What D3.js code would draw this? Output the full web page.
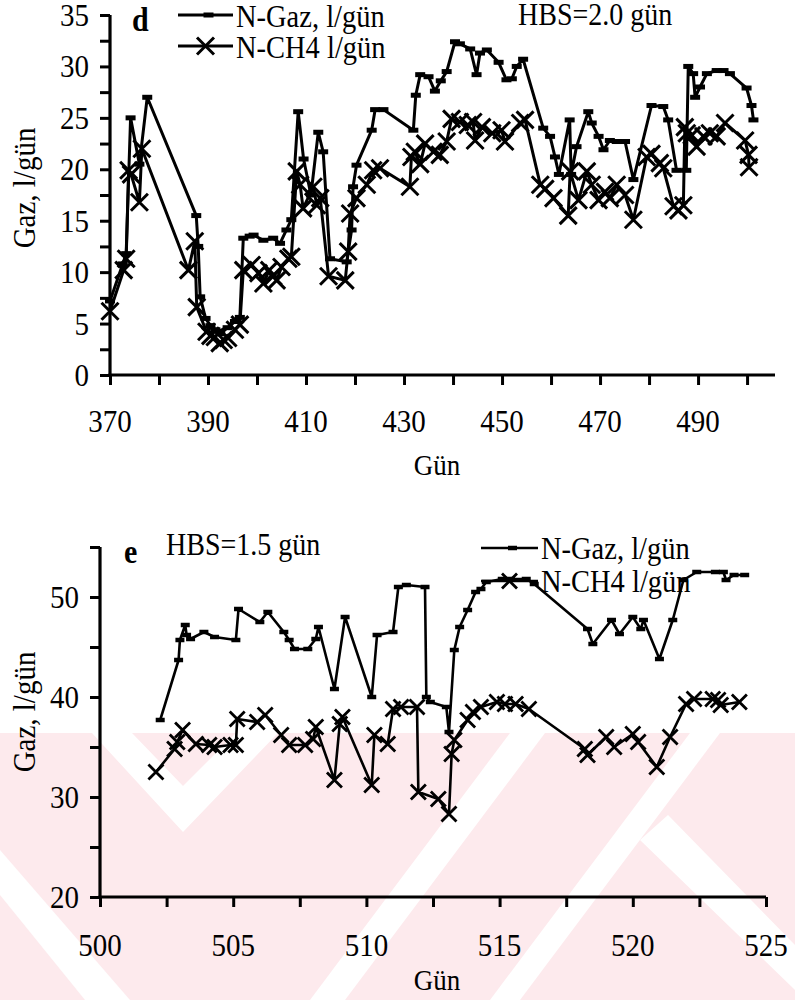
<!DOCTYPE html>
<html>
<head>
<meta charset="utf-8">
<script src="https://cdn.jsdelivr.net/npm/d3@7/dist/d3.min.js"></script>
<style>
  body { margin: 0; background: #fff; }
  svg { display: block; }
  text { font-family: "Liberation Serif", "Times New Roman", serif; fill: #000; }
</style>
</head>
<body>
<svg id="chart" width="795" height="1000"></svg>
<script>
// ---- Panel d : HBS = 2.0 gün ----
const gazDaysD = [370, 372.6, 373.3, 374.2, 376, 377.6, 387.6, 388.0, 388.4, 389.5, 390.5, 391.5, 392.5, 394, 395.5, 396.5,
  397.2, 398.5, 399.3, 401.3, 403.3, 404.7, 406, 407, 408.4, 409.5, 411, 412.5, 413.5, 414.9, 418.3, 419.3, 419.6, 420.3,
  423.4, 424.1, 425.8, 431.9, 432.4, 433.3, 435, 436.3, 437.5, 438.7, 440.4, 441.4, 443.5, 444.8, 445.5, 446.9, 449.3,
  450.9, 452, 453, 454.3, 458.4, 459.8, 460.8, 461.6, 463.8, 464.1, 465.2, 467.6, 468.3, 469.7, 470.7, 472, 473.4, 475.1,
  476.8, 480.5, 482.9, 483.9, 485.6, 487.6, 488, 489, 489.4, 490.4, 491.8, 493.8, 495.2, 496.5, 499.9, 500.9, 501.3];
const gazValsD = [7.2, 10.8, 11.8, 25, 20.5, 27, 15.5, 12.5, 7.6, 5.5, 4.8, 4.4, 4.0, 4.6, 5.2, 5.6,
  13.3, 13.5, 13.6, 13.1, 13.3, 12.8, 14.1, 15.1, 25.6, 21, 17.5, 23.6, 21.7, 11.3, 11, 14.1, 18.3, 20.4,
  23.8, 25.8, 25.8, 23.8, 27.2, 29.2, 29, 27.6, 28.6, 29.5, 32.4, 32.2, 31.7, 29.2, 31.3, 31.6, 30.4,
  28.7, 28.8, 30, 30.7, 24, 23.2, 21.2, 19.5, 24.8, 19.5, 22.2, 25.6, 24.5, 23.2, 21.9, 22.8, 22.7, 22.7,
  19, 26.2, 26.1, 24.8, 19.9, 19.9, 30, 29.3, 27, 28, 29.3, 29.6, 29.6, 29.3, 27.9, 26.2, 24.8];
const ch4DaysD = [370, 372.8, 373.3, 373.8, 374.3, 376, 376.5, 386, 387.3, 387.7, 389.7, 390.5, 391.4, 392.4, 393.2,
  394.1, 395.5, 396.5, 397.2, 398.9, 400.3, 401.3, 402.5, 403.3, 404, 405, 406.4, 407, 408.1, 408.8, 409.4, 411.5,
  412.2, 412.9, 414.6, 418, 418.6, 419, 420.3, 422.4, 423.7, 425.1, 431.2, 431.5, 432.2, 433.3, 434.3, 436, 437.3,
  438.7, 439.7, 441.4, 443, 444.1, 444.5, 445.9, 448, 449.9, 450.6, 453.7, 454.7, 457.8, 458.8, 460.5, 463.5, 463.9,
  465.6, 467.3, 468.3, 469.7, 471, 472, 473.4, 475.1, 476.8, 479.5, 480.5, 482.2, 482.9, 485, 486, 487, 487.3,
  487.7, 488.7, 489.7, 491.1, 492.4, 493.8, 495.5, 499.6, 500.3, 500.4];
const ch4ValsD = [6.2, 10.2, 11.3, 19.9, 19.5, 16.8, 22, 10.2, 13, 6.6, 4.2, 3.8, 3.7, 3.1, 3.4,
  3.6, 4.4, 4.9, 10.2, 10.7, 9.9, 8.9, 10.2, 9.6, 9.2, 10.5, 11.3, 11.5, 19.8, 18.5, 16.2, 18.3,
  16.5, 17.2, 9.6, 9.2, 12, 15.7, 17.2, 18.5, 19.9, 20.1, 18.3, 21.2, 21.7, 20.5, 22.5, 21.7, 21.4,
  22.7, 24.9, 24.6, 24.3, 24.6, 22.8, 24.1, 23.5, 23.8, 22.7, 24.5, 24.8, 18.5, 18.1, 17.2, 15.5, 19.8,
  17, 19.8, 18.5, 17, 17.8, 17.2, 18.5, 17.5, 15.1, 21.2, 21.5, 20.6, 20.1, 16.4, 16, 16.5, 24.1,
  23.5, 23.3, 22.2, 23.2, 23.5, 23.2, 24.5, 22.8, 21.4, 20.2];
const xTickLabelsD = [370, 390, 410, 430, 450, 470, 490];
const yTickLabelsD = [0, 5, 10, 15, 20, 25, 30, 35];

// ---- Panel e : HBS = 1.5 gün ----
const gazDaysE = [502.26, 502.95, 503.0, 503.2, 503.25, 503.4, 503.9, 504.3, 505.1, 505.2, 506.0, 506.3, 506.9, 507.1,
  507.3, 507.8, 508.1, 508.2, 508.8, 509.2, 510.2, 510.4, 511.0, 511.2, 511.5, 512.2, 512.25, 512.4, 513.0, 513.1,
  513.3, 513.5, 513.8, 514.1, 514.3, 514.5, 515.1, 515.4, 516.0, 516.3, 518.3, 518.5, 519.2, 519.5, 520.0, 520.3,
  520.4, 521.0, 521.5, 521.9, 522.4, 523.1, 523.4, 523.5, 523.8, 524.2];
const gazValsE = [37.7, 43.7, 45.7, 47.2, 46.2, 45.8, 46.5, 46, 45.7, 48.8, 47.5, 48.5, 46.5, 45.7,
  44.8, 44.8, 45.8, 47, 40.8, 48, 40, 46.2, 46.5, 51, 51.2, 51.0, 40, 39.5, 39, 36.5,
  44.7, 47, 48.7, 50.5, 50.8, 51.5, 51.8, 51.8, 51.8, 51.3, 46.8, 45.3, 47.7, 46.3, 48, 46.8,
  47.7, 43.8, 47.7, 51.7, 52.5, 52.5, 52.5, 51.7, 52.2, 52.2];
const ch4DaysE = [502.1, 502.8, 502.9, 503.1, 503.6, 504.1, 504.3, 504.9, 505.1, 505.15, 505.9, 506.2, 506.8, 507.1,
  507.7, 508.0, 508.1, 508.8, 509.0, 509.1, 510.2, 510.3, 510.8, 511.0, 511.3, 511.9, 511.95, 512.7, 513.1, 513.2,
  513.3, 513.8, 514.0, 514.3, 514.9, 515.2, 515.6, 516.1, 518.2, 518.3, 519.0, 519.3, 520.0, 520.2, 520.9, 521.4,
  522.0, 522.3, 523.0, 523.2, 523.3, 524.0];
const ch4ValsE = [32.5, 34.8, 35.5, 36.7, 35.3, 35.2, 35, 35.2, 35.2, 37.8, 37.5, 38.2, 36.2, 35.2,
  35.2, 35.8, 37, 31.7, 37.3, 38, 31.2, 36.2, 35.3, 38.8, 39, 39, 30.5, 29.8, 28.3, 34.3,
  35.7, 37.7, 38.5, 39, 39.5, 39.3, 39.3, 38.8, 34.8, 34.2, 36, 35, 36.3, 35.5, 33, 36,
  39.3, 39.8, 39.8, 39.7, 39.2, 39.5];
const xTickLabelsE = [500, 505, 510, 515, 520, 525];
const yTickLabelsE = [20, 30, 40, 50];

const seriesNames = ["N-Gaz, l/gün", "N-CH4 l/gün"];

const svg = d3.select("#chart");

// ---- background: light pink field with white chevron / diagonal gaps ----
const wm = svg.append("g").attr("class", "watermark");
const pink = "#fdeaed";
wm.append("rect").attr("x", 0).attr("y", 733).attr("width", 795).attr("height", 267).attr("fill", pink);
const whiteBands = [
  // chevron under the left part of panel e
  [[92, 733], [132, 733], [183, 786], [236, 733], [278, 733], [183, 832]],
  // lower-left diagonal
  [[0, 850], [0, 895], [85, 1000], [130, 1000]],
  // diagonals running down to the left
  [[510, 733], [545, 733], [345, 1000], [310, 1000]],
  [[690, 733], [720, 733], [520, 1000], [490, 1000]],
  // lower-right diagonal
  [[640, 840], [668, 815], [795, 945], [795, 990]]
];
wm.selectAll("polygon.band").data(whiteBands).enter().append("polygon")
  .attr("class", "band")
  .attr("points", d => d.map(p => p.join(",")).join(" "))
  .attr("fill", "#fff");

// ---- marker helpers ----
function dashMarker(g, x, y, w, h) {
  g.append("rect").attr("x", x - w / 2).attr("y", y - h / 2).attr("width", w).attr("height", h).attr("fill", "#000");
}
function crossMarker(g, x, y, s, sw) {
  g.append("path")
    .attr("d", `M${x - s},${y - s}L${x + s},${y + s}M${x - s},${y + s}L${x + s},${y - s}`)
    .attr("stroke", "#000").attr("stroke-width", sw).attr("fill", "none");
}
// Times-like glyphs in this figure are slightly taller than wide
function tallText(g, x, y, str, size, anchor) {
  return g.append("text")
    .attr("transform", `translate(${x},${y}) scale(1,1.1)`)
    .attr("text-anchor", anchor || "start").attr("font-size", size).text(str);
}

function drawPanel(cfg) {
  const g = svg.append("g");
  const x = d3.scaleLinear().domain(cfg.xDomain).range(cfg.xRange);
  const y = d3.scaleLinear().domain(cfg.yDomain).range(cfg.yRange);

  // axes (ticks from d3 axes, thick spines)
  const yAxis = d3.axisLeft(y).tickValues(d3.range(cfg.yDomain[0], cfg.yDomain[1] + 0.001, cfg.yMinorStep))
    .tickSize(10).tickFormat("");
  const ya = g.append("g").attr("transform", `translate(${cfg.xRange[0]},0)`).call(yAxis);
  const xAxis = d3.axisBottom(x).tickValues(d3.range(cfg.xDomain[0], cfg.xTickEnd + 0.001, cfg.xMinorStep))
    .tickSize(10).tickFormat("");
  const xa = g.append("g").attr("transform", `translate(0,${cfg.yRange[0]})`).call(xAxis);
  [ya, xa].forEach(a => {
    a.select(".domain").remove();
    a.selectAll(".tick line").attr("stroke", "#000").attr("stroke-width", 3);
  });
  g.append("line").attr("x1", cfg.xRange[0]).attr("x2", cfg.xRange[0])
    .attr("y1", cfg.yRange[1]).attr("y2", cfg.yRange[0] + 1.5).attr("stroke", "#000").attr("stroke-width", 3.2);
  g.append("line").attr("x1", cfg.xRange[0] - 1.5).attr("x2", cfg.xRange[1])
    .attr("y1", cfg.yRange[0]).attr("y2", cfg.yRange[0]).attr("stroke", "#000").attr("stroke-width", 3.2);

  // tick labels
  cfg.yLabels.forEach(d => tallText(g, cfg.yLabelX, y(d) + 11, d, 29, "end"));
  cfg.xLabels.forEach(d => tallText(g, x(d), cfg.xLabelY, d, 29, "middle"));

  // axis titles
  tallText(g, cfg.xTitleX, cfg.xTitleY, "Gün", 27, "middle");
  g.append("text").attr("transform", `translate(${cfg.yTitleX},${cfg.yTitleY}) rotate(-90) scale(1,1.1)`)
    .attr("text-anchor", "middle").attr("font-size", 29).text("Gaz, l/gün");

  // series lines
  const line = d3.line().x(d => x(d[0])).y(d => y(d[1]));
  const gaz = d3.zip(cfg.gazDays, cfg.gazVals);
  const ch4 = d3.zip(cfg.ch4Days, cfg.ch4Vals);
  g.append("path").datum(gaz).attr("d", line).attr("fill", "none").attr("stroke", "#000")
    .attr("stroke-width", cfg.lw).attr("stroke-linejoin", "round");
  g.append("path").datum(ch4).attr("d", line).attr("fill", "none").attr("stroke", "#000")
    .attr("stroke-width", cfg.lw).attr("stroke-linejoin", "round");
  gaz.forEach(d => dashMarker(g, x(d[0]), y(d[1]), cfg.dashW, cfg.dashH));
  ch4.forEach(d => crossMarker(g, x(d[0]), y(d[1]), cfg.cross, cfg.crossW));

  // panel letter and condition
  tallText(g, cfg.letterX, cfg.letterY, cfg.letter, 30).attr("font-weight", "bold");
  tallText(g, cfg.hbsX, cfg.hbsY, cfg.hbs, 28);

  // legend
  cfg.legend.forEach((L, i) => {
    g.append("line").attr("x1", L.x1).attr("x2", L.x2).attr("y1", L.y).attr("y2", L.y)
      .attr("stroke", "#000").attr("stroke-width", cfg.lw);
    if (i === 0) dashMarker(g, (L.x1 + L.x2) / 2 + 3, L.y, cfg.dashW, cfg.dashH);
    else crossMarker(g, (L.x1 + L.x2) / 2, L.y, cfg.cross, cfg.crossW);
    tallText(g, L.x2 + 3, L.y + cfg.legendDy, seriesNames[i], 28.5);
  });
}

drawPanel({
  xDomain: [370, 505.7], xRange: [110, 775], xTickEnd: 500, xMinorStep: 10,
  yDomain: [0, 35], yRange: [375, 15], yMinorStep: 2.5,
  xLabels: xTickLabelsD, yLabels: yTickLabelsD,
  yLabelX: 89, xLabelY: 432, xTitleX: 437, xTitleY: 475, yTitleX: 35, yTitleY: 188,
  gazDays: gazDaysD, gazVals: gazValsD, ch4Days: ch4DaysD, ch4Vals: ch4ValsD,
  lw: 3, dashW: 10, dashH: 5, cross: 8.5, crossW: 3,
  letter: "d", letterX: 132, letterY: 31, hbs: "HBS=2.0 gün", hbsX: 518, hbsY: 25,
  legend: [{ x1: 178, x2: 233, y: 15 }, { x1: 178, x2: 233, y: 46 }], legendDy: 12
});

drawPanel({
  xDomain: [500, 525], xRange: [100, 766], xTickEnd: 525, xMinorStep: 2.5,
  yDomain: [20, 55], yRange: [897, 547], yMinorStep: 5,
  xLabels: xTickLabelsE, yLabels: yTickLabelsE,
  yLabelX: 79, xLabelY: 956, xTitleX: 437, xTitleY: 990, yTitleX: 35, yTitleY: 712,
  gazDays: gazDaysE, gazVals: gazValsE, ch4Days: ch4DaysE, ch4Vals: ch4ValsE,
  lw: 2.6, dashW: 9, dashH: 4.5, cross: 7.5, crossW: 2.8,
  letter: "e", letterX: 124, letterY: 563, hbs: "HBS=1.5 gün", hbsX: 166, hbsY: 555,
  legend: [{ x1: 481, x2: 538, y: 548 }, { x1: 481, x2: 538, y: 581 }], legendDy: 11
});
</script>
</body>
</html>
